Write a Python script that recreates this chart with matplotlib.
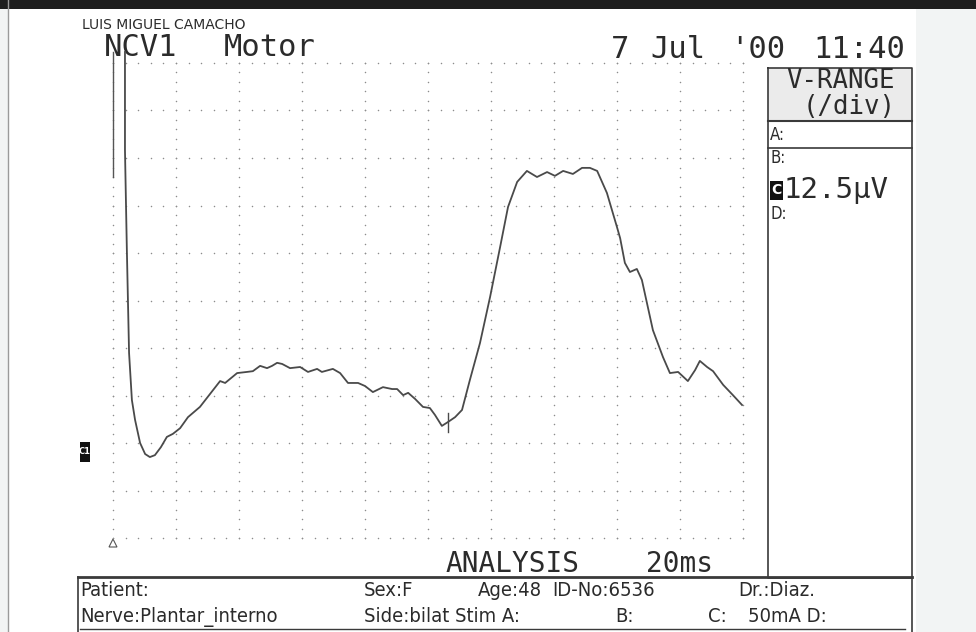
import matplotlib.pyplot as plt
import numpy as np
from matplotlib.patches import Rectangle, Polygon

# trace: time in ms (2 ms/div), amplitude in uV (12.5 uV/div)
time_ms = [0.38, 0.38, 0.44, 0.51, 0.60, 0.70, 0.86, 1.02, 1.17, 1.33, 1.52, 1.71, 1.90,
           2.13, 2.38, 2.76, 3.08, 3.40, 3.56, 3.75, 3.94, 4.25, 4.44, 4.67, 4.89, 5.05,
           5.21, 5.37, 5.62, 5.94, 6.19, 6.48, 6.63, 6.98, 7.21, 7.46, 7.78, 8.00, 8.25,
           8.57, 8.86, 9.02, 9.21, 9.37, 9.59, 9.84, 10.06, 10.22, 10.44, 10.63, 10.86,
           11.08, 11.33, 11.65, 11.97, 12.29, 12.54, 12.83, 13.14, 13.46, 13.78, 14.03,
           14.29, 14.60, 14.89, 15.14, 15.37, 15.68, 16.00, 16.10, 16.25, 16.41, 16.63,
           16.79, 17.14, 17.46, 17.68, 17.94, 18.25, 18.48, 18.63, 18.86, 19.05, 19.37,
           19.68, 19.97]
amp_uv = [127.9, 102.1, 75.8, 48.7, 36.3, 31.1, 25.0, 22.1, 21.3, 21.8, 23.9, 26.6, 27.4,
          28.9, 31.8, 34.5, 37.9, 41.3, 40.8, 42.1, 43.4, 43.7, 43.9, 45.3, 44.7, 45.3,
          46.1, 45.8, 44.7, 45.0, 43.7, 44.5, 43.7, 44.5, 43.4, 40.8, 40.8, 40.0, 38.4,
          39.7, 39.2, 39.2, 37.6, 38.2, 36.6, 34.5, 34.2, 32.4, 29.5, 30.5, 31.8,
          33.7, 41.6, 51.3, 63.4, 76.6, 87.1, 93.7, 96.6, 95.0, 96.3, 95.3,
          96.6, 95.8, 97.4, 97.4, 96.6, 90.8, 81.8, 78.9, 72.4, 70.0, 70.8,
          67.9, 54.7, 47.6, 43.4, 43.7, 41.3, 44.2, 46.6, 45.0, 43.9, 40.3,
          37.6, 35.0]

# stimulus artifact and cursor
artifact_t = [0.0, 0.0]
artifact_v = [127.9, 95.0]
cursor_t = [10.63, 10.63]
cursor_v = [27.9, 32.9]
sweep_ms = 20
uv_per_div = 12.5

header_name = "LUIS MIGUEL CAMACHO"
header_left = ["NCV1", "Motor"]
header_right = ["7", "Jul", "'00", "11:40"]
range_labels = ["A:", "B:", "D:"]
range_value = "12.5\u03bcV"
row1 = ["Patient:", "Sex:F", "Age:48", "ID-No:6536", "Dr.:Diaz."]
row2 = ["Nerve:Plantar_interno", "Side:bilat Stim A:", "B:", "C:", "50mA D:"]

ink = '#2b2b2b'
mono = 'DejaVu Sans Mono'
narrow = 'DejaVu Sans'

fig = plt.figure(figsize=(9.76, 6.32), dpi=100)

# page layer in pixel units
bg = fig.add_axes([0, 0, 1, 1])
bg.set_xlim(0, 976)
bg.set_ylim(632, 0)
bg.axis('off')

bg.add_patch(Rectangle((916, 0), 60, 632, color='#f2f4f4', lw=0))
bg.add_patch(Rectangle((0, 0), 8, 632, color='#f2f4f4', lw=0))
bg.plot([8, 8], [0, 632], color='#9a9a9a', lw=1)
bg.add_patch(Rectangle((0, 0), 976, 9, color='#1e1e1e', lw=0))

# header
bg.text(82, 25, header_name, fontsize=10, family=narrow, color=ink, va='center')
for word, x in zip(header_left, [104, 224]):
    bg.text(x, 47, word, fontsize=22, family=mono, color=ink, va='center')
for word, x in zip(header_right, [611, 650, 730, 813]):
    bg.text(x, 49, word, fontsize=22, family=mono, color=ink, va='center')

# V-RANGE box
bg.add_patch(Rectangle((768, 68), 144, 52, color='#ebebeb', lw=0))
bg.plot([768, 912, 912, 768, 768], [68, 68, 578, 578, 68], color='#3a3a3a', lw=1.2)
bg.plot([768, 912], [121, 121], color='#3a3a3a', lw=1.5)
bg.plot([768, 912], [148, 148], color='#3a3a3a', lw=1.2)
bg.text(841, 81, "V-RANGE", fontsize=18.5, family=mono, color=ink, ha='center', va='center')
bg.text(849, 107, "(/div)", fontsize=18.5, family=mono, color=ink, ha='center', va='center')
for lab, y in zip(range_labels, [135, 158, 214]):
    bg.text(770, y, lab, fontsize=12, family=narrow, stretch='condensed', color=ink,
            va='center')
bg.add_patch(Rectangle((770, 181), 13, 19, color='#111111', lw=0))
bg.text(776.5, 190.5, "C", fontsize=10, family=narrow, color='white', ha='center',
        va='center', weight='bold')
bg.text(784, 190, range_value, fontsize=21, family=mono, color=ink, va='center')

# channel marker and trigger triangle
bg.add_patch(Rectangle((80, 442), 10, 20, color='#111111', lw=0))
bg.text(85, 452, "C1", fontsize=6, family=narrow, color='white', ha='center', va='center',
        weight='bold')
bg.add_patch(Polygon([[109, 547], [117, 547], [113, 539]], closed=True, fill=False,
                     ec='#555555', lw=0.8))

# sweep label
bg.text(446, 564, "ANALYSIS", fontsize=20, family=mono, color=ink, va='center')
bg.text(646, 564, f"{sweep_ms}ms", fontsize=20, family=mono, color=ink, va='center')

# patient info box
bg.plot([78, 912], [577, 577], color='#3a3a3a', lw=2)
bg.plot([78, 78], [577, 632], color='#3a3a3a', lw=1.2)
bg.plot([912, 912], [577, 632], color='#3a3a3a', lw=1.2)
bg.plot([80, 905], [629, 629], color='#3a3a3a', lw=1)
for word, x in zip(row1, [80, 364, 478, 552, 738]):
    bg.text(x, 590, word, fontsize=14.5, family=narrow, stretch='condensed', color=ink,
            va='center')
for word, x in zip(row2, [80, 364, 615, 708, 748]):
    bg.text(x, 617, word, fontsize=14.5, family=narrow, stretch='condensed', color=ink,
            va='center')

# scope grid
ax = fig.add_axes([113 / 976, 94 / 632, 630 / 976, 475 / 632])
ax.set_xlim(0, sweep_ms)
ax.set_ylim(0, 10 * uv_per_div)
ax.axis('off')
ax.patch.set_alpha(0)

major_t = np.arange(0, sweep_ms + 0.01, 2)
major_v = np.arange(0, 10 * uv_per_div + 0.01, uv_per_div)
minor_t = np.arange(0, sweep_ms + 0.01, 0.4)
minor_v = np.arange(0, 10 * uv_per_div + 0.01, 2.5)
for t in major_t:
    ax.scatter(np.full(minor_v.size, t), minor_v, s=1.2, color='#8c8c8c', lw=0, clip_on=False)
for v in major_v:
    ax.scatter(minor_t, np.full(minor_t.size, v), s=1.2, color='#8c8c8c', lw=0, clip_on=False)

ax.plot(artifact_t, artifact_v, color='#555555', lw=1.0, clip_on=False)
ax.plot(time_ms, amp_uv, color='#4a4a4a', lw=1.3, clip_on=False)
ax.plot(cursor_t, cursor_v, color='#4a4a4a', lw=1.0, clip_on=False)

fig.savefig('out.png', dpi=100)
